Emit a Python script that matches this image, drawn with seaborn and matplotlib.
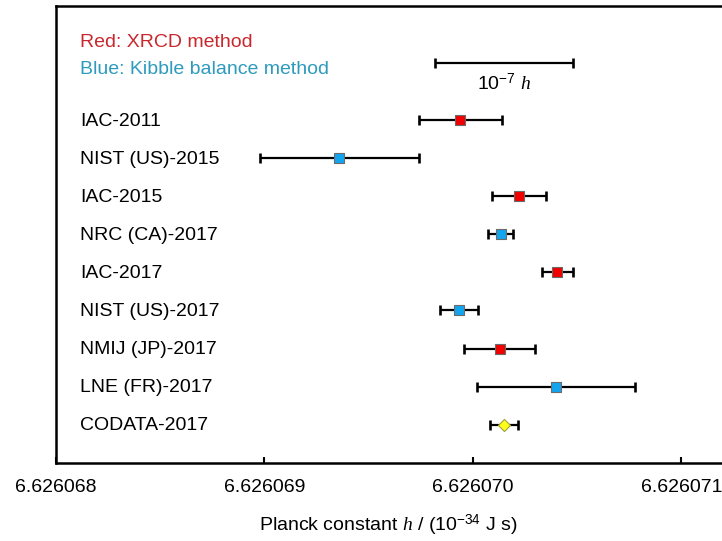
"""
Planck constant determinations (XRCD vs Kibble balance) with CODATA-2017.
"""

import pandas as pd
import numpy as np
import matplotlib
matplotlib.use("Agg")
import matplotlib.pyplot as plt
import matplotlib.transforms as mtransforms
import seaborn as sns

# values in units of 1e-34 J s
labels = ["IAC-2011", "NIST (US)-2015", "IAC-2015", "NRC (CA)-2017", "IAC-2017",
          "NIST (US)-2017", "NMIJ (JP)-2017", "LNE (FR)-2017", "CODATA-2017"]
h_values = [6.62606994, 6.62606936, 6.62607022, 6.626070133, 6.626070405,
            6.626069934, 6.62607013, 6.62607040, 6.626070150]
h_errors = [0.00000020, 0.00000038, 0.00000013, 0.000000060, 0.000000075,
            0.000000089, 0.00000017, 0.00000038, 0.000000069]
methods = ["XRCD", "Kibble", "XRCD", "Kibble", "XRCD",
           "Kibble", "XRCD", "Kibble", "CODATA"]
x_ticks = [6.626068, 6.626069, 6.626070, 6.626071]
tick_labels = ["6.626068", "6.626069", "6.626070", "6.626071"]

df = pd.DataFrame({"label": labels, "h": h_values, "err": h_errors, "method": methods})
df["row"] = np.arange(len(df))

sns.set_theme(style="white")
plt.rcParams["font.family"] = ["Liberation Sans", "DejaVu Sans"]
plt.rcParams["text.color"] = "black"
plt.rcParams["axes.labelcolor"] = "black"
plt.rcParams["xtick.color"] = "black"
plt.rcParams["mathtext.fontset"] = "custom"
plt.rcParams["mathtext.rm"] = "Liberation Sans"
plt.rcParams["mathtext.it"] = "Liberation Serif:italic"

fig = plt.figure(figsize=(7.22, 5.41), dpi=100)
ax = fig.add_axes([0.0771, 0.1447, 0.9215, 0.8443])

ax.errorbar(df["h"], df["row"], xerr=df["err"], fmt="none", ecolor="black",
            elinewidth=1.6, capsize=3.5, capthick=1.9, zorder=2)

palette = {"XRCD": "#f20000", "Kibble": "#14a5ef", "CODATA": "#ffff1a"}
markers = {"XRCD": "s", "Kibble": "s", "CODATA": "D"}
sizes = {"XRCD": 60, "Kibble": 60, "CODATA": 38}
for m, sub in df.groupby("method", sort=False):
    sns.scatterplot(data=sub, x="h", y="row", color=palette[m], marker=markers[m],
                    s=sizes[m], edgecolor="#6b6b6b" if m != "CODATA" else "#a0a040",
                    linewidth=0.8, ax=ax, zorder=3, legend=False)

# scale bar: 1e-7 relative, centred on CODATA value
center = h_values[-1]
half = 0.5e-7 * center
ax.errorbar([center], [-1.5], xerr=[half], fmt="none", ecolor="black",
            elinewidth=1.6, capsize=3.5, capthick=1.9)
ax.text(center, -0.97, r"10$^{-7}$ $h$", ha="center", va="center", fontsize=14)

# row labels and colour key
trans = mtransforms.blended_transform_factory(ax.transAxes, ax.transData)
for i, lab in enumerate(labels):
    ax.text(0.037, i + 0.03, lab, transform=trans, ha="left", va="center", fontsize=14)
ax.text(0.037, -2.04, "Red: XRCD method", transform=trans, ha="left", va="center",
        fontsize=14, color="#c8282d")
ax.text(0.037, -1.34, "Blue: Kibble balance method", transform=trans, ha="left",
        va="center", fontsize=14, color="#2e9bbe")

ax.set_xlim(6.626068, 6.62607119)
ax.set_ylim(9, -3)
ax.set_xticks(x_ticks)
ax.set_xticklabels(tick_labels, fontsize=14)
ax.set_yticks([])
ax.set_ylabel("")
ax.set_xlabel(r"Planck constant $h$ / (10$^{-34}$ J s)", fontsize=14, labelpad=12)
ax.tick_params(axis="x", direction="in", length=4, width=1.5, pad=12, bottom=True)

for side in ["left", "bottom", "top"]:
    ax.spines[side].set_linewidth(1.8)
    ax.spines[side].set_color("black")
ax.spines["right"].set_visible(False)

fig.savefig("out.png", dpi=100)
